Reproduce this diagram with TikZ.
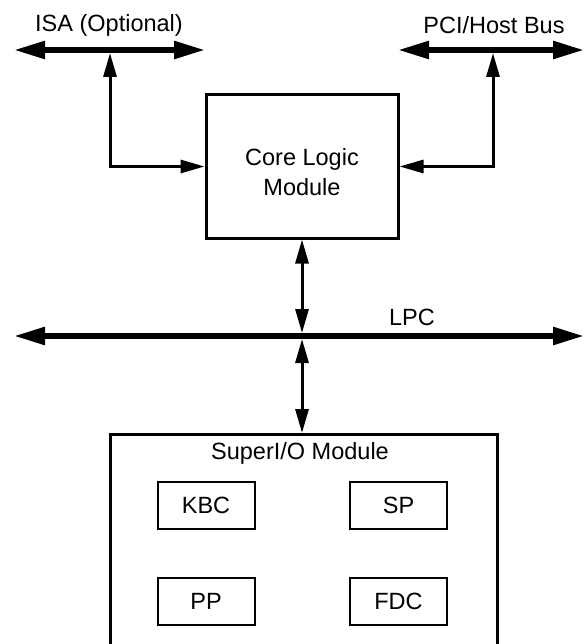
\documentclass[tikz,border=0pt]{standalone}
\usepackage{fontspec}
\setmainfont{Liberation Sans}
\usepackage{tikz}
\usetikzlibrary{arrows.meta}
\newcommand{\diagfont}{\fontsize{23.5}{30}\selectfont}

\begin{document}
\begin{tikzpicture}[x=1pt,y=-1pt,
		bus/.style={line width=5.5pt,{Triangle[length=31pt,width=17pt]}-{Triangle[length=31pt,width=17pt]}},
		link/.style={line width=3pt,{Triangle[length=24pt,width=13pt]}-{Triangle[length=24pt,width=13pt]}},
		modbox/.style={draw,line width=3pt,align=center,font=\diagfont},
		subbox/.style={draw,line width=2pt,minimum width=97pt,minimum height=47pt,font=\diagfont},
		lbl/.style={font=\diagfont}]
	\useasboundingbox (0,0) rectangle (585,644);
	\clip (0,0) rectangle (585,644);

	% Etichette dei bus
	\node[lbl] (isalbl) at (109,25) {ISA (Optional)};
	\node[lbl] (pcilbl) at (494,25) {PCI/Host Bus};
	\node[lbl] (lpclbl) at (412,317) {LPC};

	% Estremi dei bus
	\coordinate (isaL) at (14,50);
	\coordinate (isaR) at (205,50);
	\coordinate (isaT) at (110,53);
	\coordinate (pciL) at (398,50);
	\coordinate (pciR) at (584,50);
	\coordinate (pciT) at (493,53);
	\coordinate (lpcL) at (14,336);
	\coordinate (lpcR) at (584,336);
	\coordinate (lpcup) at (302,333);
	\coordinate (lpcdn) at (302,339);

	% Moduli
	\node[modbox,minimum width=192pt,minimum height=143pt] (core) at (302,166.5) {};
	\node[lbl,align=center] (corelbl) at (302,172) {Core Logic\\Module};
	\node[modbox,minimum width=387pt,minimum height=250pt,anchor=north] (sio) at (303.5,433) {};
	\node[lbl] (siolbl) at (300,453) {SuperI/O Module};

	% Blocchi interni del SuperI/O
	\node[subbox] (kbc) at (206,505.5) {KBC};
	\node[subbox] (sp) at (398.5,505.5) {SP};
	\node[subbox] (pp) at (206,601.5) {PP};
	\node[subbox] (fdc) at (398.5,601.5) {FDC};

	% Bus
	\draw[bus] (isaL) -- (isaR);
	\draw[bus] (pciL) -- (pciR);
	\draw[bus] (lpcL) -- (lpcR);

	% Collegamenti
	\draw[link] (core.west) -| (isaT);
	\draw[link] (core.east) -| (pciT);
	\draw[link] (core.south) -- (lpcup);
	\draw[link] (lpcdn) -- (lpcdn |- sio.north);
\end{tikzpicture}
\end{document}
